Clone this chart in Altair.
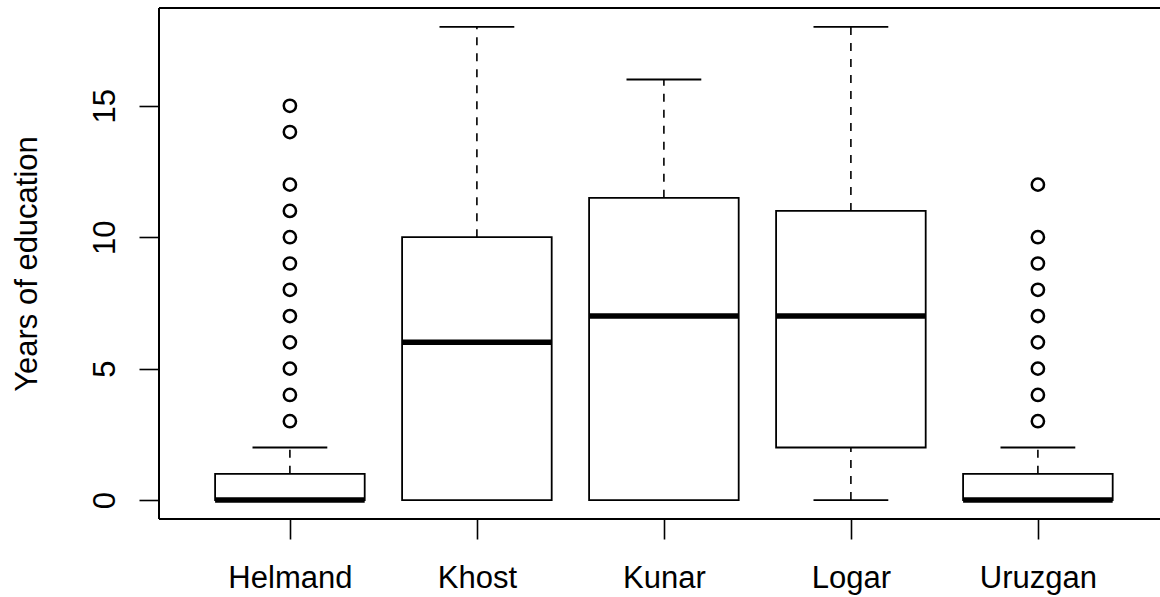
import altair as alt
import pandas as pd

# Years of education by province: five-number summaries and outliers
provinces = ["Helmand", "Khost", "Kunar", "Logar", "Uruzgan"]
whisker_low = [0, 0, 0, 0, 0]
quartile_1 = [0, 0, 0, 2, 0]
medians = [0, 6, 7, 7, 0]
quartile_3 = [1, 10, 11.5, 11, 1]
whisker_high = [2, 18, 16, 18, 2]

outlier_province = ["Helmand"] * 12 + ["Uruzgan"] * 9
outlier_years = [3, 4, 5, 6, 7, 8, 9, 10, 11, 12, 14, 15,
                 3, 4, 5, 6, 7, 8, 9, 10, 12]

positions = list(range(1, len(provinces) + 1))
pos_of = dict(zip(provinces, positions))

stats = pd.DataFrame({
    "province": provinces,
    "pos": positions,
    "lo": whisker_low,
    "q1": quartile_1,
    "med": medians,
    "q3": quartile_3,
    "hi": whisker_high,
})
outliers = pd.DataFrame({
    "province": outlier_province,
    "pos": [pos_of[p] for p in outlier_province],
    "years": outlier_years,
})

W, H = 1001, 511
FONT = "Liberation Sans"
FS = 31

x_scale = alt.Scale(domain=[0.3, 5.653], nice=False, zero=False)
y_scale = alt.Scale(domain=[-0.72, 18.72], nice=False, zero=False)

label_expr = "[" + ",".join(f"'{p}'" for p in provinces) + "][datum.value - 1]"

x_axis = alt.Axis(values=positions, labelExpr=label_expr, title=None,
                  domain=False, grid=False, ticks=True, tickSize=20,
                  tickWidth=1.6, tickColor="black", labelFont=FONT,
                  labelFontSize=FS, labelColor="black", labelPadding=24,
                  labelBaseline="top", labelAlign="center", labelFlush=False)
y_axis = alt.Axis(values=[0, 5, 10, 15], title="Years of education",
                  domain=False, grid=False, tickSize=20, tickWidth=1.6,
                  tickColor="black", labelFont=FONT, labelFontSize=FS,
                  labelColor="black", labelAngle=270, labelAlign="center",
                  labelBaseline="alphabetic", labelPadding=25,
                  titleFont=FONT, titleFontSize=FS, titleColor="black",
                  titleFontWeight="normal", titleAngle=270,
                  titleAlign="center", titleBaseline="alphabetic",
                  titleX=-123, titleY=H / 2)

base = alt.Chart(stats).transform_calculate(
    left="datum.pos - 0.4", right="datum.pos + 0.4",
    capl="datum.pos - 0.2", capr="datum.pos + 0.2",
)

dash = [8, 8]

upper_whisker = base.mark_rule(color="black", strokeWidth=1.6, strokeDash=dash).encode(
    x=alt.X("pos:Q", scale=x_scale, axis=x_axis),
    y=alt.Y("q3:Q", scale=y_scale, axis=y_axis),
    y2="hi:Q",
)
lower_whisker = base.mark_rule(color="black", strokeWidth=1.6, strokeDash=dash).encode(
    x=alt.X("pos:Q", scale=x_scale),
    y=alt.Y("lo:Q", scale=y_scale),
    y2="q1:Q",
)
cap_high = base.mark_rule(color="black", strokeWidth=1.8).encode(
    x=alt.X("capl:Q", scale=x_scale), x2="capr:Q",
    y=alt.Y("hi:Q", scale=y_scale),
)
cap_low = base.mark_rule(color="black", strokeWidth=1.8).encode(
    x=alt.X("capl:Q", scale=x_scale), x2="capr:Q",
    y=alt.Y("lo:Q", scale=y_scale),
)
boxes = base.mark_rect(fill="white", stroke="black", strokeWidth=1.8).encode(
    x=alt.X("left:Q", scale=x_scale), x2="right:Q",
    y=alt.Y("q1:Q", scale=y_scale), y2="q3:Q",
)
median_bars = base.mark_rule(color="black", strokeWidth=5.5, strokeCap="butt").encode(
    x=alt.X("left:Q", scale=x_scale), x2="right:Q",
    y=alt.Y("med:Q", scale=y_scale),
)
points = alt.Chart(outliers).mark_point(
    shape="circle", filled=False, color="black", size=150, strokeWidth=2.5, opacity=1
).encode(
    x=alt.X("pos:Q", scale=x_scale),
    y=alt.Y("years:Q", scale=y_scale),
)

# Plot frame: left, top and bottom edges
one = alt.Data(values=[{"k": 1}])
frame_top = alt.Chart(one).mark_rule(color="black", strokeWidth=2).encode(
    x=alt.value(0), x2=alt.value(W), y=alt.value(0))
frame_bottom = alt.Chart(one).mark_rule(color="black", strokeWidth=2).encode(
    x=alt.value(0), x2=alt.value(W), y=alt.value(H))
frame_left = alt.Chart(one).mark_rule(color="black", strokeWidth=2).encode(
    x=alt.value(0), y=alt.value(0), y2=alt.value(H))

chart = alt.layer(
    upper_whisker, lower_whisker, cap_high, cap_low, boxes, median_bars,
    points, frame_top, frame_bottom, frame_left,
).properties(
    width=W, height=H,
    autosize=alt.AutoSizeParams(type="none"),
    padding={"left": 159, "top": 8, "right": 0, "bottom": 78},
    background="white",
).configure_view(stroke=None)

chart.save("out.html", embed_options={"renderer": "svg", "actions": False})
